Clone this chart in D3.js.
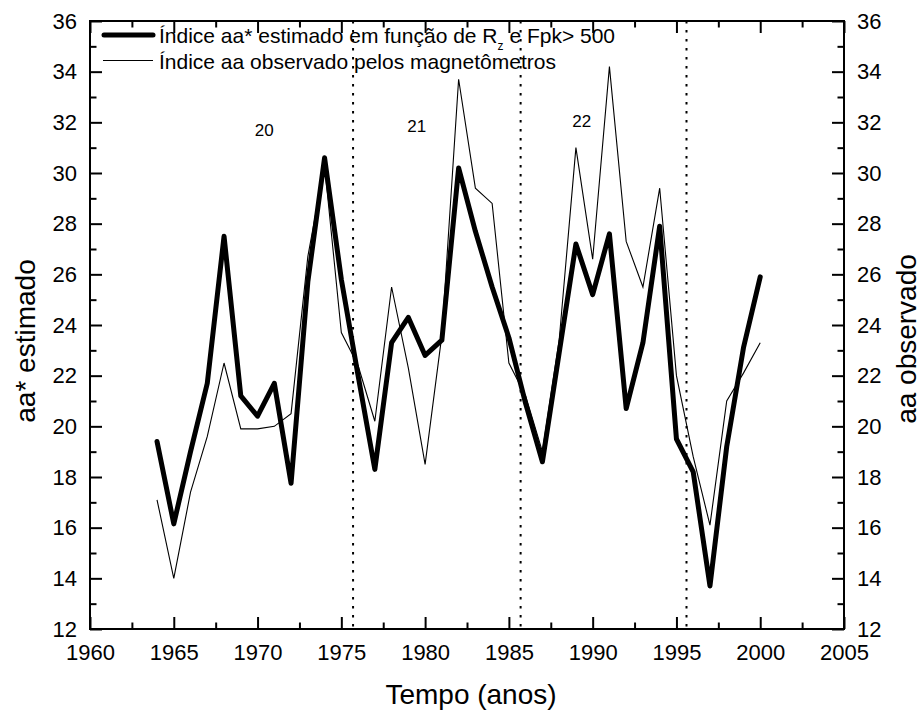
<!DOCTYPE html>
<html>
<head>
<meta charset="utf-8">
<script src="https://cdn.jsdelivr.net/npm/d3@7"></script>
<style>
  html, body { margin: 0; padding: 0; background: #fff; }
  svg { display: block; font-family: "Liberation Sans", Arial, Helvetica, sans-serif; }
</style>
</head>
<body>
<svg id="chart" width="922" height="713"></svg>
<script>
// Years of the series
const years = [1964, 1965, 1966, 1967, 1968, 1969, 1970, 1971, 1972, 1973, 1974, 1975, 1976, 1977,
  1978, 1979, 1980, 1981, 1982, 1983, 1984, 1985, 1986, 1987, 1988, 1989, 1990, 1991, 1992,
  1993, 1994, 1995, 1996, 1997, 1998, 1999, 2000];

// aa* index estimated from Rz and Fpk > 500
const aaEstimated = [19.4, 16.15, 19.0, 21.7, 27.5, 21.2, 20.4, 21.7, 17.75, 25.7, 30.6, 25.8, 22.0, 18.3,
  23.3, 24.3, 22.8, 23.4, 30.2, 27.7, 25.5, 23.5, 20.9, 18.6, 22.9, 27.2, 25.2, 27.6, 20.7,
  23.3, 27.9, 19.5, 18.2, 13.7, 19.2, 23.1, 25.9];

// aa index observed by the magnetometers
const aaObserved = [17.1, 14.0, 17.4, 19.6, 22.5, 19.9, 19.9, 20.0, 20.5, 26.7, 30.3, 23.7, 22.4, 20.2,
  25.5, 22.3, 18.5, 23.6, 33.7, 29.4, 28.8, 22.5, 21.2, 19.0, 23.4, 31.0, 26.6, 34.2, 27.3,
  25.5, 29.4, 22.0, 18.8, 16.1, 21.0, 22.1, 23.3];

// Solar cycle boundaries and cycle numbers
const cycleBoundaries = [1975.7, 1985.7, 1995.6];
const cycleNames = ["20", "21", "22"];
const cycleLabelYears = [1970.4, 1979.5, 1989.35];
const cycleLabelValues = [31.45, 31.6, 31.8];

// Axis ticks
const xMajorTicks = [1960, 1965, 1970, 1975, 1980, 1985, 1990, 1995, 2000, 2005];
const xMinorTicks = [1962.5, 1967.5, 1972.5, 1977.5, 1982.5, 1987.5, 1992.5, 1997.5, 2002.5];
const yMajorTicks = [12, 14, 16, 18, 20, 22, 24, 26, 28, 30, 32, 34, 36];
const yMinorTicks = [13, 15, 17, 19, 21, 23, 25, 27, 29, 31, 33, 35];

// Text
const xTitle = "Tempo (anos)";
const yTitleLeft = "aa* estimado";
const yTitleRight = "aa observado";

const svg = d3.select("#chart");
const plot = { left: 90, right: 844, top: 21, bottom: 629 };

const x = d3.scaleLinear().domain([1960, 2005]).range([plot.left, plot.right]);
const y = d3.scaleLinear().domain([12, 36]).range([plot.bottom, plot.top]);

const tickFont = 22;
const majorLen = 12, minorLen = 6.5;

function styleAxis(g) {
  g.select(".domain").remove();
  g.selectAll(".tick line").attr("stroke", "#000").attr("stroke-width", 2);
  g.selectAll(".tick text").attr("font-size", tickFont).attr("fill", "#000")
    .attr("font-family", "Liberation Sans, Arial, sans-serif");
}

// Bottom axis (ticks point inward)
svg.append("g").attr("transform", `translate(0,${plot.bottom})`)
  .call(d3.axisBottom(x).tickValues(xMajorTicks).tickFormat(d3.format("d"))
    .tickSizeInner(-majorLen).tickSizeOuter(0).tickPadding(15))
  .call(styleAxis);
svg.append("g").attr("transform", `translate(0,${plot.bottom})`)
  .call(d3.axisBottom(x).tickValues(xMinorTicks).tickFormat("")
    .tickSizeInner(-minorLen).tickSizeOuter(0))
  .call(styleAxis);

// Top axis, ticks only
svg.append("g").attr("transform", `translate(0,${plot.top})`)
  .call(d3.axisTop(x).tickValues(xMajorTicks).tickFormat("")
    .tickSizeInner(-majorLen).tickSizeOuter(0))
  .call(styleAxis);
svg.append("g").attr("transform", `translate(0,${plot.top})`)
  .call(d3.axisTop(x).tickValues(xMinorTicks).tickFormat("")
    .tickSizeInner(-minorLen).tickSizeOuter(0))
  .call(styleAxis);

// Left axis
svg.append("g").attr("transform", `translate(${plot.left},0)`)
  .call(d3.axisLeft(y).tickValues(yMajorTicks).tickFormat(d3.format("d"))
    .tickSizeInner(-majorLen).tickSizeOuter(0).tickPadding(13))
  .call(styleAxis);
svg.append("g").attr("transform", `translate(${plot.left},0)`)
  .call(d3.axisLeft(y).tickValues(yMinorTicks).tickFormat("")
    .tickSizeInner(-minorLen).tickSizeOuter(0))
  .call(styleAxis);

// Right axis
svg.append("g").attr("transform", `translate(${plot.right},0)`)
  .call(d3.axisRight(y).tickValues(yMajorTicks).tickFormat(d3.format("d"))
    .tickSizeInner(-majorLen).tickSizeOuter(0).tickPadding(13))
  .call(styleAxis);
svg.append("g").attr("transform", `translate(${plot.right},0)`)
  .call(d3.axisRight(y).tickValues(yMinorTicks).tickFormat("")
    .tickSizeInner(-minorLen).tickSizeOuter(0))
  .call(styleAxis);

// Frame
svg.append("rect")
  .attr("x", plot.left).attr("y", plot.top)
  .attr("width", plot.right - plot.left).attr("height", plot.bottom - plot.top)
  .attr("fill", "none").attr("stroke", "#000").attr("stroke-width", 2);

// Cycle boundaries (dotted)
svg.append("g").selectAll("line").data(cycleBoundaries).join("line")
  .attr("x1", d => x(d)).attr("x2", d => x(d))
  .attr("y1", plot.top).attr("y2", plot.bottom)
  .attr("stroke", "#000").attr("stroke-width", 2)
  .attr("stroke-dasharray", "2.5,6.5");

// Cycle numbers
svg.append("g").selectAll("text").data(cycleNames).join("text")
  .attr("x", (d, i) => x(cycleLabelYears[i]))
  .attr("y", (d, i) => y(cycleLabelValues[i]))
  .attr("text-anchor", "middle").attr("font-size", 17).attr("fill", "#000")
  .text(d => d);

// Series lines
const line = d3.line().x((d, i) => x(years[i])).y(d => y(d));

svg.append("path").datum(aaObserved)
  .attr("d", line).attr("fill", "none")
  .attr("stroke", "#000").attr("stroke-width", 1.1)
  .attr("stroke-linejoin", "miter");

svg.append("path").datum(aaEstimated)
  .attr("d", line).attr("fill", "none")
  .attr("stroke", "#000").attr("stroke-width", 5)
  .attr("stroke-linejoin", "round").attr("stroke-linecap", "round");

// Legend
const legend = svg.append("g");
legend.append("line").attr("x1", 104).attr("x2", 153).attr("y1", 35).attr("y2", 35)
  .attr("stroke", "#000").attr("stroke-width", 5).attr("stroke-linecap", "round");
legend.append("line").attr("x1", 103).attr("x2", 153).attr("y1", 60.5).attr("y2", 60.5)
  .attr("stroke", "#000").attr("stroke-width", 1.1);

const l1 = legend.append("text").attr("x", 159).attr("y", 43).attr("font-size", 21).attr("fill", "#000");
l1.append("tspan").text("Índice aa* estimado em função de R");
l1.append("tspan").attr("dy", 7).attr("font-size", 12).text("z");
l1.append("tspan").attr("dy", -7).text(" e Fpk> 500");

legend.append("text").attr("x", 159).attr("y", 68.5).attr("font-size", 21).attr("fill", "#000")
  .text("Índice aa observado pelos magnetômetros");

// Axis titles
svg.append("text")
  .attr("x", (plot.left + plot.right) / 2 + 4).attr("y", 704)
  .attr("text-anchor", "middle").attr("font-size", 28).attr("fill", "#000")
  .text(xTitle);

svg.append("text")
  .attr("transform", `translate(35,341) rotate(-90)`)
  .attr("text-anchor", "middle").attr("font-size", 28).attr("fill", "#000")
  .text(yTitleLeft);

svg.append("text")
  .attr("transform", `translate(916,339) rotate(-90)`)
  .attr("text-anchor", "middle").attr("font-size", 28).attr("fill", "#000")
  .text(yTitleRight);
</script>
</body>
</html>
